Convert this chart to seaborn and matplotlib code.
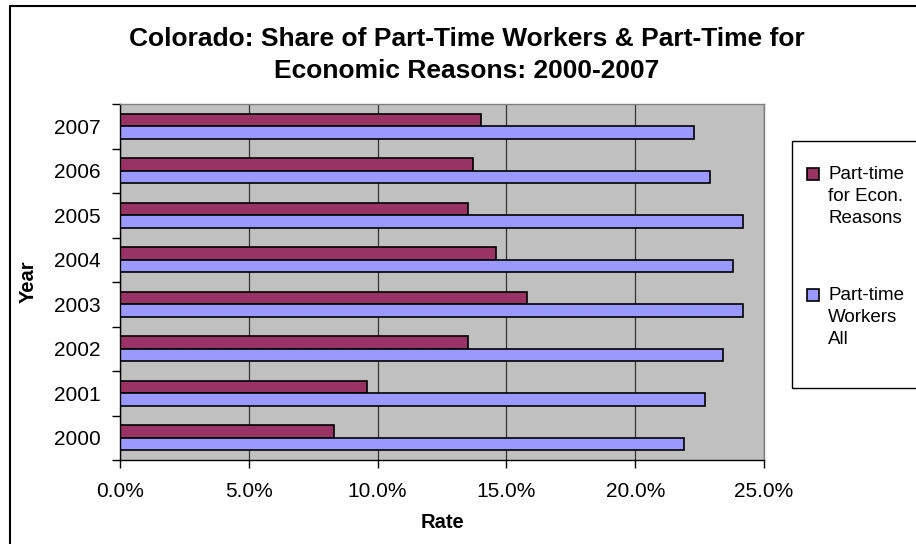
import matplotlib
matplotlib.use("Agg")
import matplotlib.pyplot as plt
from matplotlib.patches import Rectangle
from matplotlib.lines import Line2D
from matplotlib.ticker import FixedLocator, PercentFormatter
import seaborn as sns
import pandas as pd

# ---- data ----
years = ["2007", "2006", "2005", "2004", "2003", "2002", "2001", "2000"]
econ_reasons = [14.0, 13.7, 13.5, 14.6, 15.8, 13.5, 9.6, 8.3]
all_workers = [22.3, 22.9, 24.2, 23.8, 24.2, 23.4, 22.7, 21.9]
series_names = ["Part-time\nfor Econ.\nReasons", "Part-time\nWorkers\nAll"]
series_colors = ["#993366", "#9999FF"]
x_ticks = [0, 5, 10, 15, 20, 25]
title = "Colorado: Share of Part-Time Workers & Part-Time for\nEconomic Reasons: 2000-2007"

df = pd.DataFrame({
    "Year": years * 2,
    "Series": [series_names[0]] * len(years) + [series_names[1]] * len(years),
    "Rate": econ_reasons + all_workers,
})

sns.set_theme(style="white")
plt.rcParams["font.family"] = ["Liberation Sans", "DejaVu Sans"]
plt.rcParams["text.color"] = "black"

W, H = 916, 544
fig = plt.figure(figsize=(W / 100, H / 100), dpi=100)
ax = fig.add_axes([120 / W, (H - 460) / H, 644 / W, 356 / H])

sns.barplot(data=df, y="Year", x="Rate", hue="Series", order=years,
            hue_order=series_names, palette=series_colors, orient="h",
            width=0.56, gap=0, edgecolor="black", linewidth=1.2,
            saturation=1, legend=False, ax=ax)

ax.set_facecolor("#C0C0C0")
ax.set_xlim(0, 25)
ax.set_ylim(7.5, -0.5)

# grid
ax.xaxis.set_major_locator(FixedLocator(x_ticks))
ax.xaxis.set_major_formatter(PercentFormatter(decimals=1))
ax.grid(axis="x", color="#333333", linewidth=0.9)
ax.set_axisbelow(True)

# spines
for s in ["top", "right"]:
    ax.spines[s].set_color("#808080")
    ax.spines[s].set_linewidth(1.0)
for s in ["left", "bottom"]:
    ax.spines[s].set_color("black")
    ax.spines[s].set_linewidth(1.0)

# ticks
ax.tick_params(axis="x", which="major", direction="out", length=6, width=1,
               color="black", pad=10, labelsize=15, labelcolor="black")
ax.tick_params(axis="y", which="major", length=0, pad=14, labelsize=15,
               labelcolor="black")
ax.yaxis.set_minor_locator(FixedLocator([i - 0.5 for i in range(len(years) + 1)]))
ax.tick_params(axis="y", which="minor", direction="out", length=6, width=1,
               color="black", left=True)
ax.tick_params(axis="x", bottom=True)

ax.set_xlabel("Rate", fontsize=14.5, fontweight="bold", color="black", va="center")
ax.set_ylabel("Year", fontsize=14.5, fontweight="bold", color="black", va="center")
ax.xaxis.set_label_coords(0.5, -(523 - 460) / 356)
ax.yaxis.set_label_coords((28 - 120) / 644, 0.5)

# title
fig.text(467 / W, 1 - 55 / H, title, ha="center", va="center", color="black",
         fontsize=19, fontweight="bold", linespacing=1.45)

# legend (manual, Excel-style)
fig.patches.append(Rectangle((792 / W, 1 - 388 / H), 140 / W, (388 - 141) / H,
                             transform=fig.transFigure, facecolor="white",
                             edgecolor="black", linewidth=1.0, zorder=1))
entry_y = [174, 295]
for name, color, yy in zip(series_names, series_colors, entry_y):
    fig.patches.append(Rectangle((807 / W, 1 - (yy + 6) / H), 12 / W, 12 / H,
                                 transform=fig.transFigure, facecolor=color,
                                 edgecolor="black", linewidth=1.2, zorder=2))
    fig.text(828 / W, 1 - (yy - 8) / H, name, ha="left", va="top", color="black",
             fontsize=13.5, linespacing=1.38, zorder=3)

# chart border (left and top visible)
fig.add_artist(Line2D([10 / W, 10 / W], [0, 1 - 6 / H], transform=fig.transFigure,
                      color="black", linewidth=1.5))
fig.add_artist(Line2D([10 / W, 1], [1 - 6 / H, 1 - 6 / H], transform=fig.transFigure,
                      color="black", linewidth=1.5))

fig.savefig("out.png", dpi=100, facecolor="white")
